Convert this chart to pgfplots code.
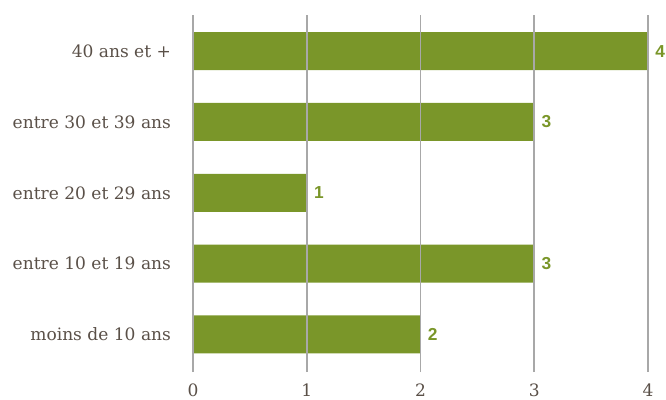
\documentclass[border=0pt]{standalone}
\usepackage{pgfplots}
\pgfplotsset{compat=1.18}
\usepackage{fontspec}
\setmainfont{DejaVu Serif}
\newfontfamily\labfont{Liberation Sans}
\definecolor{bar}{HTML}{7A9629}
\definecolor{txt}{HTML}{5A5048}
\definecolor{grd}{HTML}{A8A8A8}
\begin{document}
\begin{tikzpicture}
\begin{axis}[
  scale only axis,
  width=341.25pt, height=267.75pt,
  xbar, bar width=28.5pt,
  xmin=0, xmax=4, ymin=-0.53, ymax=4.51,
  enlargelimits=false,
  axis line style={draw=none},
  major tick length=0pt,
  xtick={0,1,2,3,4},
  ytick={0,1,2,3,4},
  yticklabels={moins de 10 ans, entre 10 et 19 ans, entre 20 et 29 ans, entre 30 et 39 ans, 40 ans et +},
  xmajorgrids, grid style={draw=grd, line width=1.3pt},
  axis on top,
  /pgf/number format/assume math mode=true,
  tick label style={font=\fontsize{12.8}{15}\selectfont, text=txt},
  yticklabel style={anchor=east, xshift=-13pt},
  xticklabel style={anchor=north, yshift=-5pt},
  nodes near coords,
  nodes near coords style={font=\labfont\bfseries\fontsize{13}{15}\selectfont, text=bar, anchor=west, xshift=2pt},
  clip=false,
]
\addplot[fill=bar, draw=none] coordinates {(2,0) (3,1) (1,2) (3,3) (4,4)};
\end{axis}
\pgfresetboundingbox
\path[use as bounding box] (-144.75pt,-20.25pt) rectangle (354.75pt,279pt);
\end{tikzpicture}
\end{document}
